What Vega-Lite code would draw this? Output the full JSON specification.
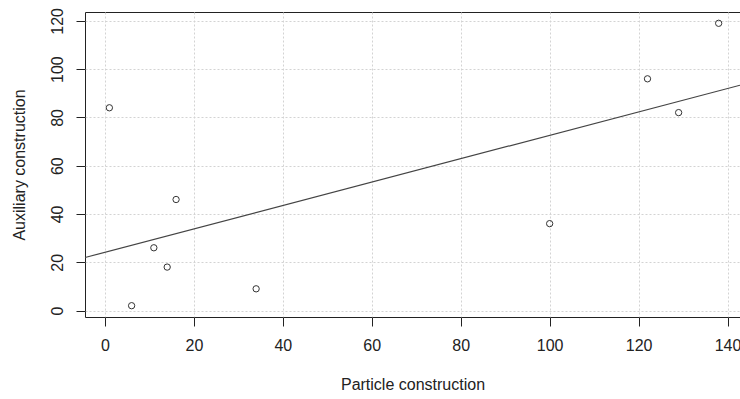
{
  "$schema": "https://vega.github.io/schema/vega-lite/v6.json",
  "width": 655,
  "height": 305,
  "autosize": {"type": "none"},
  "padding": {"left": 85, "top": 12, "right": 0, "bottom": 82},
  "background": "white",
  "config": {
    "view": {"stroke": "#222", "strokeWidth": 1},
    "font": "Liberation Sans",
    "axis": {
      "domain": false,
      "grid": true,
      "gridColor": "#d3d3d3",
      "gridDash": [2, 2],
      "gridWidth": 1,
      "tickColor": "#222",
      "tickSize": 9,
      "labelFont": "Liberation Sans",
      "labelFontSize": 16,
      "labelColor": "#222",
      "titleFont": "Liberation Sans",
      "titleFontSize": 16,
      "titleFontWeight": "normal",
      "titleColor": "#222"
    }
  },
  "data": {
    "values": [
      {"particle": 1, "auxiliary": 84},
      {"particle": 6, "auxiliary": 2},
      {"particle": 11, "auxiliary": 26},
      {"particle": 14, "auxiliary": 18},
      {"particle": 16, "auxiliary": 46},
      {"particle": 34, "auxiliary": 9},
      {"particle": 100, "auxiliary": 36},
      {"particle": 122, "auxiliary": 96},
      {"particle": 129, "auxiliary": 82},
      {"particle": 138, "auxiliary": 119}
    ]
  },
  "encoding": {
    "x": {
      "field": "particle",
      "type": "quantitative",
      "scale": {"domain": [-4.48, 142.8], "nice": false, "zero": false},
      "axis": {"values": [0, 20, 40, 60, 80, 100, 120, 140], "title": "Particle construction", "labelPadding": 11, "titlePadding": 23}
    },
    "y": {
      "field": "auxiliary",
      "type": "quantitative",
      "scale": {"domain": [-2.68, 123.68], "nice": false, "zero": false},
      "axis": {"values": [0, 20, 40, 60, 80, 100, 120], "title": "Auxiliary construction", "labelAngle": -90, "labelAlign": "center", "labelBaseline": "alphabetic", "labelPadding": 14, "titlePadding": 22}
    }
  },
  "layer": [
    {
      "mark": {"type": "point", "shape": "circle", "filled": false, "size": 40, "stroke": "#333", "strokeWidth": 1, "opacity": 1}
    },
    {
      "transform": [{"regression": "auxiliary", "on": "particle", "extent": [-4.48, 142.8]}],
      "mark": {"type": "line", "color": "#444", "strokeWidth": 1.2, "clip": true}
    }
  ]
}
